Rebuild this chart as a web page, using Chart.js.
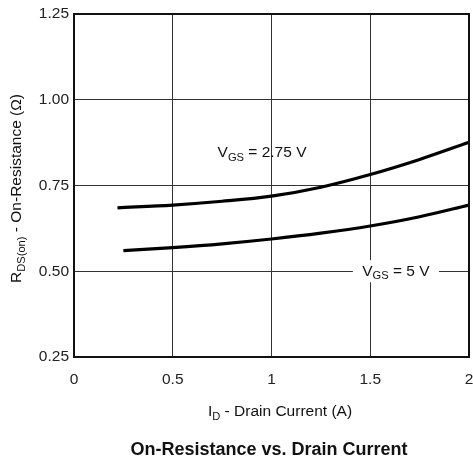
<!DOCTYPE html>
<html>
<head>
<meta charset="utf-8">
<script src="https://cdn.jsdelivr.net/npm/chart.js@4/dist/chart.umd.min.js"></script>
<style>
  html, body { margin: 0; padding: 0; background: #fff; }
  #wrap { width: 473px; height: 463px; }
</style>
</head>
<body>
<div id="wrap"><canvas id="rdson"></canvas></div>
<script>
const idVgs275 = [0.22, 0.5, 0.75, 1.0, 1.25, 1.5, 1.75, 2.0];
const rdsVgs275 = [0.685, 0.693, 0.704, 0.719, 0.745, 0.782, 0.826, 0.876];
const idVgs5 = [0.25, 0.5, 0.75, 1.0, 1.25, 1.5, 1.75, 2.0];
const rdsVgs5 = [0.560, 0.569, 0.580, 0.594, 0.611, 0.632, 0.659, 0.693];
const xTicks = [0, 0.5, 1, 1.5, 2];
const yTicks = [0.25, 0.5, 0.75, 1.0, 1.25];

const FONT = '"Liberation Sans", Arial, sans-serif';

function pts(xs, ys) {
  return xs.map((x, i) => ({ x: x, y: ys[i] }));
}

// text with subscripts: parts = [[text, isSub], ...]
function subWidth(ctx, parts, size) {
  let w = 0;
  parts.forEach(p => {
    ctx.font = (p[1] ? size * 0.72 : size) + 'px ' + FONT;
    w += ctx.measureText(p[0]).width;
  });
  return w;
}
function drawSub(ctx, parts, x, y, size) {
  ctx.textAlign = 'left';
  ctx.textBaseline = 'middle';
  parts.forEach(p => {
    ctx.font = (p[1] ? size * 0.72 : size) + 'px ' + FONT;
    ctx.fillText(p[0], x, p[1] ? y + size * 0.3 : y);
    x += ctx.measureText(p[0]).width;
  });
}

const labels275 = [['V', 0], ['GS', 1], [' = 2.75 V', 0]];
const labels5 = [['V', 0], ['GS', 1], [' = 5 V', 0]];
const xTitle = [['I', 0], ['D', 1], [' - Drain Current (A)', 0]];
const yTitle = [['R', 0], ['DS(on)', 1], [' - On-Resistance (\u03A9)', 0]];

const decor = {
  id: 'decor',
  beforeDatasetsDraw(chart) {
    const ctx = chart.ctx, xs = chart.scales.x, ys = chart.scales.y;
    // white patch behind the VGS = 5 V label
    const cx = xs.getPixelForValue(1.63), cy = ys.getPixelForValue(0.5);
    ctx.save();
    ctx.fillStyle = '#fff';
    ctx.fillRect(cx - 43, cy - 11, 86, 22);
    ctx.restore();
  },
  afterDatasetsDraw(chart) {
    const ctx = chart.ctx, a = chart.chartArea, xs = chart.scales.x, ys = chart.scales.y;
    ctx.save();
    ctx.strokeStyle = '#111';
    ctx.lineWidth = 2;
    ctx.strokeRect(a.left, a.top, a.right - a.left, a.bottom - a.top);

    ctx.fillStyle = '#111';
    let w = subWidth(ctx, labels275, 15.5);
    drawSub(ctx, labels275, xs.getPixelForValue(0.952) - w / 2, ys.getPixelForValue(0.845), 15.5);
    w = subWidth(ctx, labels5, 15.5);
    drawSub(ctx, labels5, xs.getPixelForValue(1.63) - w / 2, ys.getPixelForValue(0.5), 15.5);

    // axis titles
    w = subWidth(ctx, xTitle, 15.5);
    drawSub(ctx, xTitle, 280 - w / 2, 412, 15.5);
    ctx.save();
    ctx.translate(17, (a.top + a.bottom) / 2 + 3);
    ctx.rotate(-Math.PI / 2);
    w = subWidth(ctx, yTitle, 15.5);
    drawSub(ctx, yTitle, -w / 2, 0, 15.5);
    ctx.restore();

    // caption
    ctx.font = 'bold 18px ' + FONT;
    ctx.textAlign = 'center';
    ctx.textBaseline = 'middle';
    ctx.fillText('On-Resistance vs. Drain Current', 269, 450);
    ctx.restore();
  }
};

new Chart(document.getElementById('rdson'), {
  type: 'line',
  data: {
    datasets: [
      {
        label: 'VGS = 2.75 V',
        data: pts(idVgs275, rdsVgs275),
        borderColor: '#000',
        borderWidth: 3.2,
        pointRadius: 0,
        cubicInterpolationMode: 'monotone',
        fill: false
      },
      {
        label: 'VGS = 5 V',
        data: pts(idVgs5, rdsVgs5),
        borderColor: '#000',
        borderWidth: 3.2,
        pointRadius: 0,
        cubicInterpolationMode: 'monotone',
        fill: false
      }
    ]
  },
  options: {
    responsive: true,
    maintainAspectRatio: false,
    animation: false,
    layout: { padding: { top: 14, right: 4, left: 0, bottom: 0 } },
    plugins: {
      legend: { display: false },
      tooltip: { enabled: false }
    },
    scales: {
      x: {
        type: 'linear',
        min: 0,
        max: 2,
        afterFit(scale) {
          scale.height = 106;
          scale.paddingLeft = 0;
          scale.paddingRight = 0;
        },
        afterBuildTicks(scale) { scale.ticks = xTicks.map(v => ({ value: v })); },
        grid: { color: '#333', lineWidth: 1, drawTicks: false },
        border: { display: false },
        ticks: {
          color: '#222',
          padding: 13,
          font: { family: FONT, size: 15.5 },
          callback: v => String(v)
        }
      },
      y: {
        min: 0.25,
        max: 1.25,
        afterFit(scale) {
          scale.width = 74;
          scale.paddingTop = 0;
          scale.paddingBottom = 0;
        },
        afterBuildTicks(scale) { scale.ticks = yTicks.map(v => ({ value: v })); },
        grid: { color: '#333', lineWidth: 1, drawTicks: false },
        border: { display: false },
        ticks: {
          color: '#222',
          padding: 5,
          font: { family: FONT, size: 15.5 },
          callback: v => v.toFixed(2)
        }
      }
    }
  },
  plugins: [decor]
});
</script>
</body>
</html>
